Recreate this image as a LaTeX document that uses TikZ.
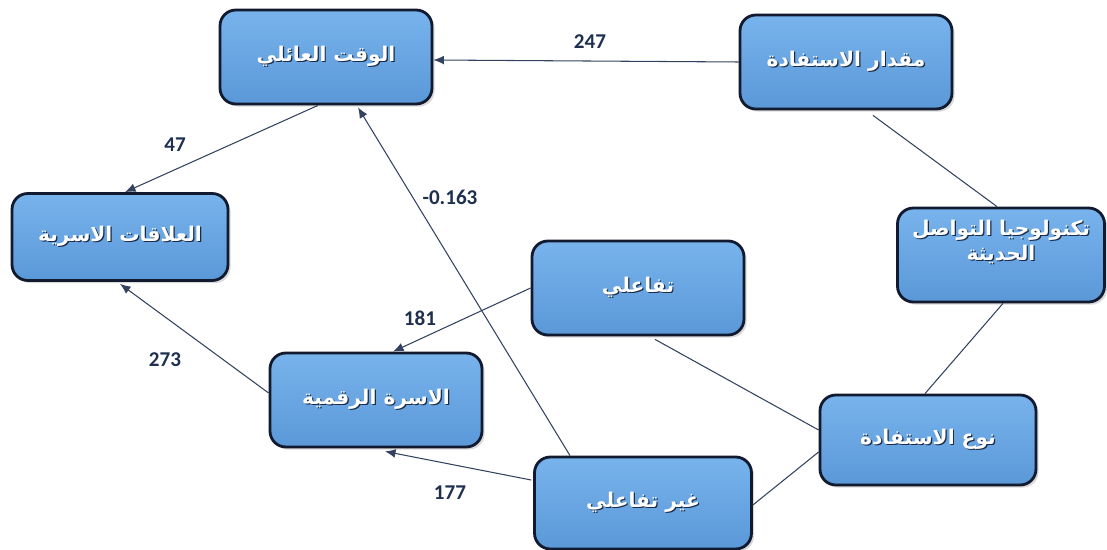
\documentclass[tikz,border=0pt]{standalone}
\usepackage{fontspec}
\setmainfont{Carlito}
\newfontfamily\arabicfont[Script=Arabic]{DejaVu Sans}
\TeXXeTstate=1
\usetikzlibrary{arrows.meta,shadows,calc}
\definecolor{boxtop}{HTML}{78B3EC}
\definecolor{boxbot}{HTML}{5A98D8}
\definecolor{boxline}{HTML}{111A2E}
\definecolor{linec}{HTML}{33425F}
\definecolor{labc}{HTML}{1F2F4F}
\definecolor{shadc}{HTML}{1A2A44}
\newcommand\artxt[1]{{\arabicfont\bfseries\beginR #1\endR}}
\newcommand\shtxt[1]{\leavevmode\rlap{\raisebox{-0.7pt}{\kern0.7pt\color{shadc}\artxt{#1}}}{\color{white}\artxt{#1}}}
\tikzset{
  boxnode/.style={draw=boxline, line width=1.6pt, rounded corners=9pt,
    top color=boxtop, bottom color=boxbot,
    drop shadow={opacity=0.3, shadow xshift=1.5pt, shadow yshift=-1.5pt},
    minimum width=4.24cm, minimum height=1.88cm, align=center,
    font=\fontsize{11.5}{15}\selectfont, inner sep=2pt},
  conn/.style={draw=linec, line width=0.6pt},
  arr/.style={conn, -{Latex[length=6pt,width=5pt]}},
  lab/.style={text=labc, font=\fontsize{12}{14}\selectfont\bfseries}
}
\begin{document}
\begin{tikzpicture}[x=0.02cm,y=-0.02cm]
\useasboundingbox (0,0) rectangle (1107,550);
\node[boxnode] (wt) at (326,57) {\raisebox{4pt}{\shtxt{الوقت العائلي}}};
\node[boxnode] (mq) at (846,62) {\raisebox{4pt}{\shtxt{مقدار الاستفادة}}};
\node[boxnode, minimum width=4.14cm] (tech) at (1001,255) {\shtxt{تكنولوجيا التواصل}\\[-1pt]\shtxt{الحديثة}\\[2pt]};
\node[boxnode, minimum width=4.32cm, minimum height=1.74cm] (rel) at (120,237) {\raisebox{4pt}{\shtxt{العلاقات الاسرية}}};
\node[boxnode] (int) at (638,288) {\raisebox{4pt}{\shtxt{تفاعلي}}};
\node[boxnode] (dig) at (376,400) {\raisebox{4pt}{\shtxt{الاسرة الرقمية}}};
\node[boxnode, minimum width=4.34cm, minimum height=1.84cm] (nint) at (643,503) {\raisebox{4pt}{\shtxt{غير تفاعلي}}};
\node[boxnode, minimum width=4.32cm, minimum height=1.8cm] (type) at (928,440) {\raisebox{4pt}{\shtxt{نوع الاستفادة}}};

\draw[arr] (mq.west) -- ($(wt.east)+(0,3)$);
\draw[arr] ($(wt.south)+(-8,0)$) -- ($(rel.north)+(5,0)$);
\draw[conn] ($(mq.south)+(27,5)$) -- ($(tech.north)+(-4,0)$);
\draw[conn] ($(tech.south)+(2,0)$) -- ($(type.north)+(-3,0)$);
\draw[conn] ($(int.south)+(17,3)$) -- ($(type.west)+(0,-10)$);
\draw[conn] ($(nint.east)+(0,2)$) -- ($(type.west)+(0,12)$);
\draw[arr] (int.west) -- ($(dig.north)+(17,0)$);
\draw[arr] ($(dig.west)+(0,-7)$) -- ($(rel.south)+(0,2)$);
\draw[arr] ($(nint.west)+(-2,-23)$) -- ($(dig.south)+(9,3)$);
\draw[arr] ($(nint.north)+(-73,0)$) -- ($(wt.south)+(32,2)$);

\node[lab] (l247) at (590,42) {247};
\node[lab] (l47) at (175,145) {47};
\node[lab] (l163) at (450,197) {-0.163};
\node[lab] (l181) at (420,318) {181};
\node[lab] (l273) at (165,360) {273};
\node[lab] (l177) at (450,493) {177};
\end{tikzpicture}
\end{document}
